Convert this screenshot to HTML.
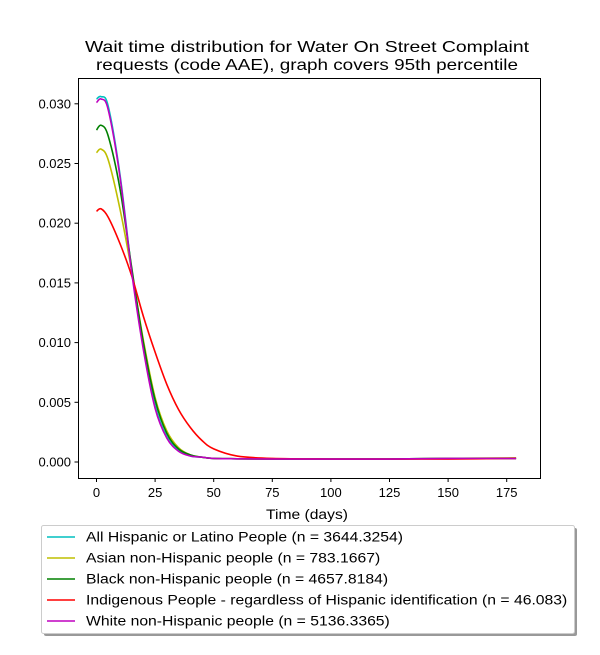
<!DOCTYPE html>
<html><head><meta charset="utf-8"><style>
body{margin:0;background:#fff;font-family:"Liberation Sans","DejaVu Sans",sans-serif}
svg text{font-family:"Liberation Sans","DejaVu Sans",sans-serif}
</style></head><body>
<svg id="chart" width="600" height="650" xmlns="http://www.w3.org/2000/svg">
<rect width="600" height="650" fill="#fff"/>
<text x="307" y="52" font-size="16" text-anchor="middle" textLength="444" lengthAdjust="spacingAndGlyphs">Wait time distribution  for Water On Street Complaint</text>
<text x="307" y="70" font-size="16" text-anchor="middle" textLength="422" lengthAdjust="spacingAndGlyphs">requests (code AAE), graph covers 95th percentile</text>
<g id="ticks"></g>
<g id="series" clip-path="url(#clip)"></g>
<clipPath id="clip"><rect x="78" y="78" width="462" height="400"/></clipPath>
<rect x="78.5" y="78.5" width="462" height="400" fill="none" stroke="#000" stroke-width="1"/>
<text x="307" y="519" font-size="13.5" text-anchor="middle" textLength="82" lengthAdjust="spacingAndGlyphs">Time (days)</text>
<rect x="44" y="528" width="533" height="108" fill="#999" rx="2"/>
<rect x="41.5" y="525.5" width="533" height="108" fill="#fff" stroke="#ccc" rx="2"/>
<g id="legend"></g>
</svg>
<script>
const xs=[0,2,5,10,15,20,25,30,35,40,45,50,60,75,100,125,150,179];
const cyanVals=[.0304,.0306,.0298,.0241,.0161,.0096,.0047,.0021,.0010,.0005,.0004,.0003,.00027,.00025,.00025,.00025,.0003,.0003];
const yellowVals=[.0259,.0262,.0253,.0212,.0160,.0102,.0054,.0026,.0012,.0006,.0004,.0003,.00027,.00025,.00025,.00025,.0003,.00035];
const greenVals=[.0278,.0282,.0273,.0229,.0163,.0100,.0052,.0024,.0011,.0006,.0004,.0003,.00027,.00025,.00025,.00025,.0003,.0003];
const redVals=[.0210,.0212,.0205,.0183,.0156,.0122,.0092,.0065,.0044,.0029,.0018,.0011,.0005,.0003,.00025,.00025,.00025,.0003];
const magentaVals=[.0301,.0304,.0295,.0239,.0159,.0094,.0045,.0020,.0009,.0005,.0004,.0003,.00027,.00025,.00025,.00025,.0003,.0003];
const xTicks=[0,25,50,75,100,125,150,175];
const yTicks=[0,0.005,0.010,0.015,0.020,0.025,0.030];
const names=["All Hispanic or Latino People (n = 3644.3254)","Asian non-Hispanic people (n = 783.1667)","Black non-Hispanic people (n = 4657.8184)","Indigenous People - regardless of Hispanic identification (n = 46.083)","White non-Hispanic people (n = 5136.3365)"];
const colors=["#00bfbf","#bfbf00","#008000","#ff0000","#bf00bf"];
const allVals=[cyanVals,yellowVals,greenVals,redVals,magentaVals];
const NS="http://www.w3.org/2000/svg";
const X=v=>96.5+v*(58.6/25);
const Y=v=>462-v*(59.7/0.005);
function mk(t,a,p){const e=document.createElementNS(NS,t);for(const k in a)e.setAttribute(k,a[k]);p.appendChild(e);return e;}
const tk=document.getElementById('ticks');
xTicks.forEach(v=>{
 const l=mk('line',{x1:X(v),x2:X(v),y1:478.5,y2:482,stroke:'#000'},tk);
 
 
 const t=mk('text',{x:X(v),y:497,'font-size':13,'text-anchor':'middle'},tk);t.textContent=v;
 
 
});
yTicks.forEach(v=>{
 const l=mk('line',{x1:74.5,x2:78.5,y1:Y(v),y2:Y(v),stroke:'#000'},tk);
 
 
 const t=mk('text',{x:71,y:Y(v)+4.5,'font-size':13,'text-anchor':'end'},tk);t.textContent=v.toFixed(3);
 
 
});
function path(vals){
 const p=xs.map((x,i)=>[X(x),Y(vals[i])]);
 let d='M'+p[0][0]+','+p[0][1];
 for(let i=0;i<p.length-1;i++){
  const p0=p[i-1]||p[i],p1=p[i],p2=p[i+1],p3=p[i+2]||p2;
  d+=` C${p1[0]+(p2[0]-p0[0])/6},${p1[1]+(p2[1]-p0[1])/6} ${p2[0]-(p3[0]-p1[0])/6},${p2[1]-(p3[1]-p1[1])/6} ${p2[0]},${p2[1]}`;
 }
 return d;
}
const sg=document.getElementById('series');
allVals.forEach((vals,i)=>{
 const e=mk('path',{d:path(vals),fill:'none',stroke:colors[i],'stroke-width':1.6},sg);
 
 
});
const lg=document.getElementById('legend');
names.forEach((n,i)=>{
 const y=537+i*21;
 const l=mk('line',{x1:47,x2:75,y1:y,y2:y,stroke:colors[i],'stroke-width':1.6},lg);
 
 
 const t=mk('text',{x:86,y:y+4.5,'font-size':13.5},lg);t.textContent=n;
 
 
 const w=t.getComputedTextLength();
 t.setAttribute('textLength',(w*1.165).toFixed(1));
 t.setAttribute('lengthAdjust','spacingAndGlyphs');
});
</script>
</body></html>
